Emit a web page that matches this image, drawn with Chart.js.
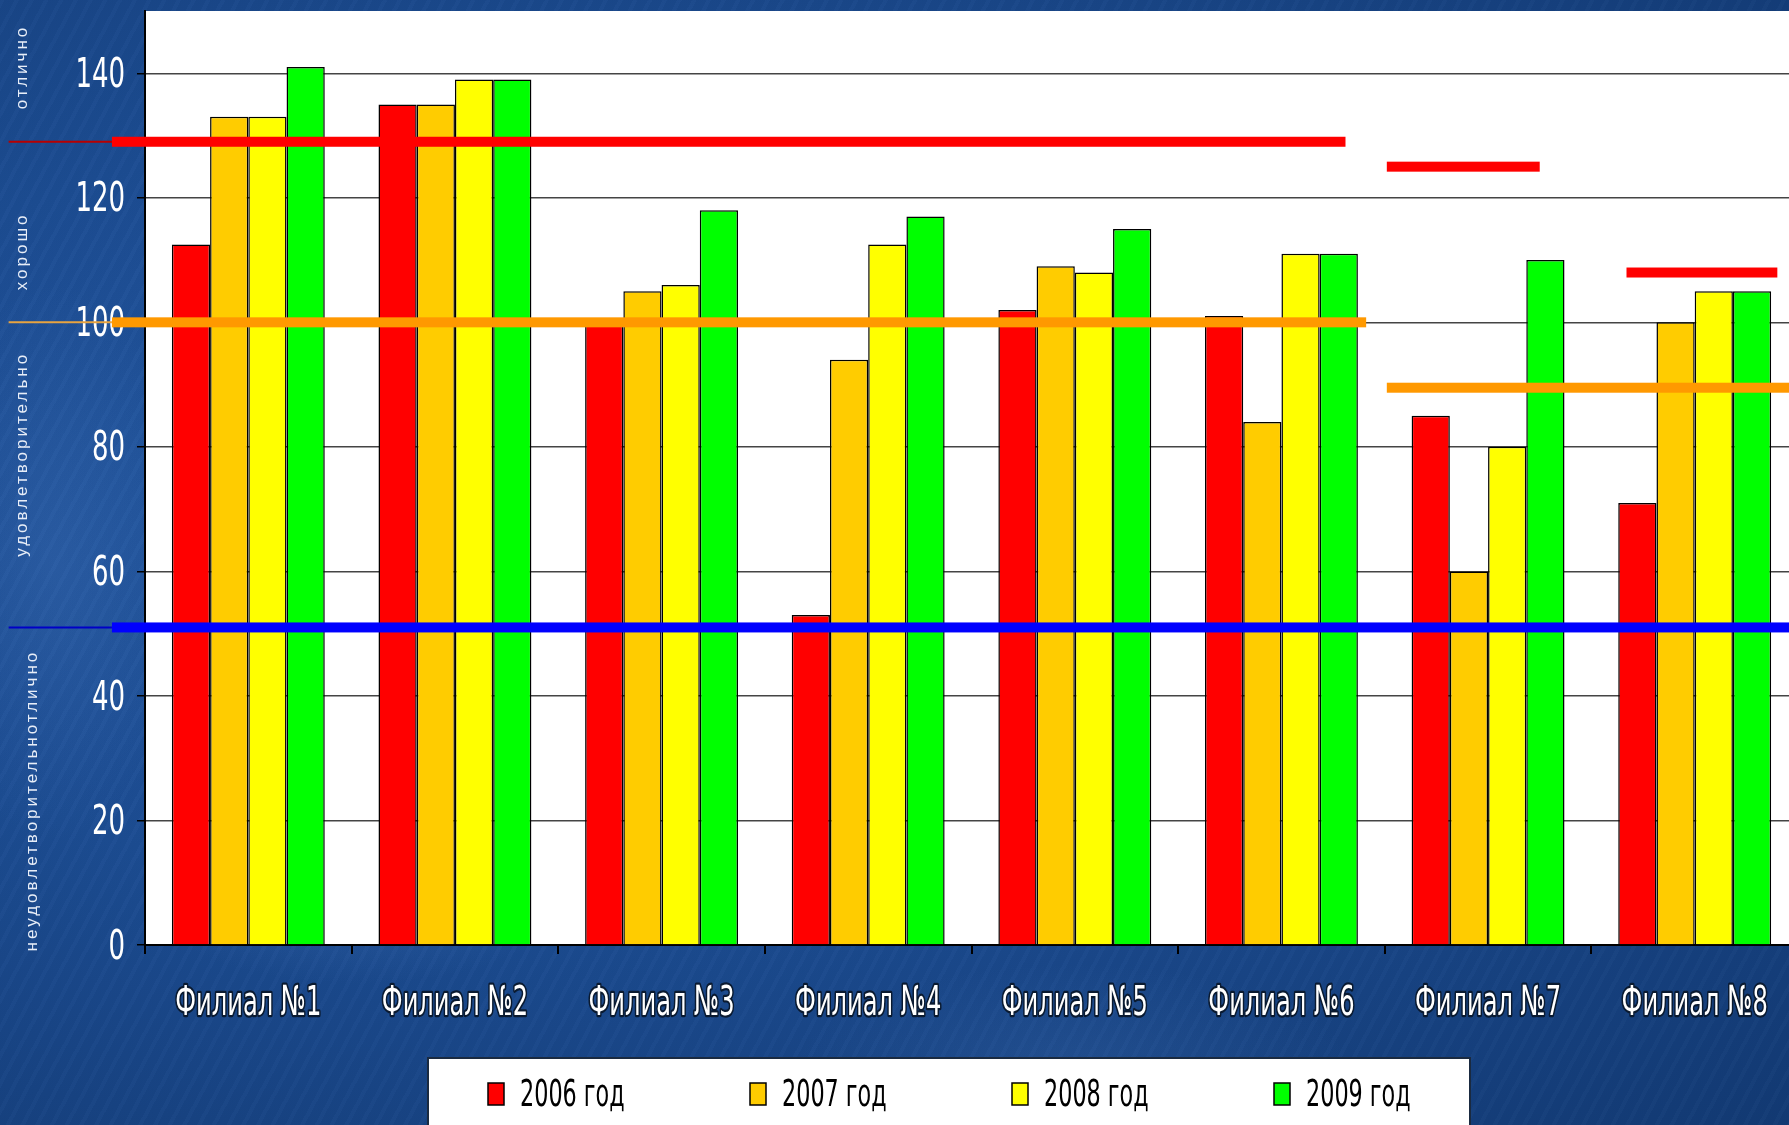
<!DOCTYPE html>
<html>
<head>
<meta charset="utf-8">
<script src="https://cdn.jsdelivr.net/npm/chart.js@4.4.1/dist/chart.umd.min.js"></script>
<style>
html, body { margin: 0; padding: 0; width: 1789px; height: 1125px; overflow: hidden; }
body {
    background:
        radial-gradient(ellipse 300px 120px at 20% 80%, rgba(90,140,210,0.18), rgba(0,0,0,0) 70%),
        radial-gradient(ellipse 400px 150px at 60% 95%, rgba(90,140,210,0.15), rgba(0,0,0,0) 70%),
        radial-gradient(ellipse 200px 400px at 3% 50%, rgba(100,150,220,0.15), rgba(0,0,0,0) 70%),
        repeating-linear-gradient(118deg, rgba(255,255,255,0.015) 0 4px, rgba(0,0,0,0.02) 4px 13px),
        radial-gradient(ellipse at 30% 45%, #2459a3 0%, #1c4c92 45%, #123a74 100%);
}
#chart { display: block; }
</style>
</head>
<body>
<canvas id="chart" width="1798" height="1125"></canvas>
<script>
// данные по филиалам
const branches = ['Филиал №1', 'Филиал №2', 'Филиал №3', 'Филиал №4', 'Филиал №5', 'Филиал №6', 'Филиал №7', 'Филиал №8'];
const years = ['2006 год', '2007 год', '2008 год', '2009 год'];
const values2006 = [112.5, 135, 100, 53, 102, 101, 85, 71];
const values2007 = [133, 135, 105, 94, 109, 84, 60, 100];
const values2008 = [133, 139, 106, 112.5, 108, 111, 80, 105];
const values2009 = [141, 139, 118, 117, 115, 111, 110, 105];
const yTicks = [0, 20, 40, 60, 80, 100, 120, 140];

// оценки слева (подписи по оси)
const gradeLabels = ['отлично', 'хорошо', 'удовлетворительно', 'неудовлетворительнотлично'];
const gradeAt = [141, 111.4, 78.8, 23.2];

// нормативы: значение и диапазон в единицах категорий
const normValues = [129, 125, 108, 100, 89.5, 51];
const normFrom = [-0.66, 5.51, 6.67, -0.66, 5.51, -0.66];
const normTo = [5.31, 6.25, 7.40, 5.41, 7.6, 7.6];
const normLead = [-1.16, null, null, -1.16, null, -1.16];
const normKind = ['red', 'red', 'red', 'orange', 'orange', 'blue'];

const barColors = ['#ff0000', '#ffcc00', '#ffff00', '#00ff00'];
const normColors = { red: '#ff0000', orange: '#ff9900', blue: '#0000ff' };
const leadColors = { red: '#b80000', orange: '#e8a440', blue: '#0000c8' };

const NARROW = "'Liberation Sans Narrow', 'DejaVu Sans Condensed', 'Arial Narrow', sans-serif";

function stretchText(ctx, text, x, y, align, sx, sy, stroke) {
    ctx.save();
    ctx.translate(x, y);
    ctx.scale(sx, sy);
    ctx.textAlign = align;
    ctx.textBaseline = 'middle';
    if (stroke) {
        ctx.lineJoin = 'round';
        ctx.strokeText(text, 0, 0);
    }
    ctx.fillText(text, 0, 0);
    ctx.restore();
}

const plotBackground = {
    id: 'plotBackground',
    beforeDraw(chart) {
        const { ctx, chartArea } = chart;
        ctx.save();
        ctx.fillStyle = '#ffffff';
        ctx.fillRect(chartArea.left, chartArea.top, chart.width - chartArea.left, chartArea.bottom - chartArea.top);
        ctx.restore();
    }
};

const overlay = {
    id: 'overlay',
    afterDatasetsDraw(chart) {
        const { ctx } = chart;
        const x = chart.scales.x;
        const y = chart.scales.y;

        // подписи оси Y
        ctx.save();
        ctx.fillStyle = '#ffffff';
        ctx.font = '34px ' + NARROW;
        yTicks.forEach(v => stretchText(ctx, String(v), y.right - 20, y.getPixelForValue(v) + 3, 'right', 0.85, 1.2, false));
        ctx.restore();

        // подписи категорий
        ctx.save();
        ctx.fillStyle = '#ffffff';
        ctx.strokeStyle = '#0a1a30';
        ctx.lineWidth = 3.5;
        ctx.font = '32px ' + NARROW;
        branches.forEach((b, i) => stretchText(ctx, b, x.getPixelForTick(i), x.top + 59, 'center', 0.84, 1.3, true));
        ctx.restore();

        // оценки (повёрнутый текст)
        ctx.save();
        ctx.fillStyle = '#e8eef8';
        ctx.font = "17px 'Liberation Sans', sans-serif";
        ctx.letterSpacing = '3px';
        gradeLabels.forEach((g, i) => {
            ctx.save();
            ctx.translate(i === 3 ? 32 : 22, y.getPixelForValue(gradeAt[i]));
            ctx.rotate(-Math.PI / 2);
            ctx.textAlign = 'center';
            ctx.textBaseline = 'middle';
            ctx.fillText(g, 0, 0);
            ctx.restore();
        });
        ctx.restore();

        // нормативные линии
        const x0 = x.getPixelForValue(0);
        const cw = x.getPixelForValue(1) - x0;
        ctx.save();
        normValues.forEach((v, i) => {
            const py = y.getPixelForValue(v);
            const p1 = x0 + normFrom[i] * cw;
            const p2 = Math.min(x0 + normTo[i] * cw, chart.width);
            if (normLead[i] !== null) {
                ctx.strokeStyle = leadColors[normKind[i]];
                ctx.lineWidth = 2;
                ctx.beginPath();
                ctx.moveTo(x0 + normLead[i] * cw, py);
                ctx.lineTo(p1, py);
                ctx.stroke();
            }
            ctx.fillStyle = normColors[normKind[i]];
            ctx.fillRect(p1, py - 5, p2 - p1, 10);
        });
        ctx.restore();

        // легенда
        ctx.save();
        ctx.fillStyle = '#ffffff';
        ctx.fillRect(428, 1058, 1042, 70);
        ctx.strokeStyle = '#1a2a40';
        ctx.lineWidth = 2;
        ctx.strokeRect(428, 1058, 1042, 80);
        ctx.font = '31px ' + NARROW;
        chart.data.datasets.forEach((ds, i) => {
            const lx = 488 + i * 262;
            ctx.fillStyle = ds.backgroundColor;
            ctx.fillRect(lx, 1083, 16, 22);
            ctx.strokeStyle = '#000';
            ctx.lineWidth = 1.5;
            ctx.strokeRect(lx, 1083, 16, 22);
            ctx.fillStyle = '#000';
            stretchText(ctx, ds.label, lx + 32, 1096, 'left', 0.8, 1.2, false);
        });
        ctx.restore();
    }
};

const datasets = [values2006, values2007, values2008, values2009].map((vals, i) => ({
    label: years[i],
    data: vals,
    backgroundColor: barColors[i],
    borderColor: '#000000',
    borderWidth: 1.5,
    categoryPercentage: 0.74,
    barPercentage: 1.0
}));

new Chart(document.getElementById('chart').getContext('2d'), {
    type: 'bar',
    data: { labels: branches, datasets: datasets },
    plugins: [plotBackground, overlay],
    options: {
        responsive: false,
        animation: false,
        devicePixelRatio: 1,
        layout: { padding: { top: 11, left: 0, right: 0, bottom: 0 } },
        plugins: {
            legend: { display: false },
            tooltip: { enabled: false }
        },
        scales: {
            x: {
                afterFit(scale) { scale.height = 180; },
                ticks: { display: false },
                grid: { offset: true, drawOnChartArea: false, drawTicks: true, tickLength: 9, color: '#000000', lineWidth: 2 },
                border: { display: true, color: '#000000', width: 2 }
            },
            y: {
                min: 0,
                max: 150,
                afterFit(scale) { scale.width = 145; },
                ticks: { display: false, stepSize: 20, includeBounds: false },
                grid: { color: '#444444', lineWidth: 1.5, drawTicks: true, tickLength: 8, tickColor: '#000000' },
                border: { display: true, color: '#000000', width: 2 }
            }
        }
    }
});
</script>
</body>
</html>
